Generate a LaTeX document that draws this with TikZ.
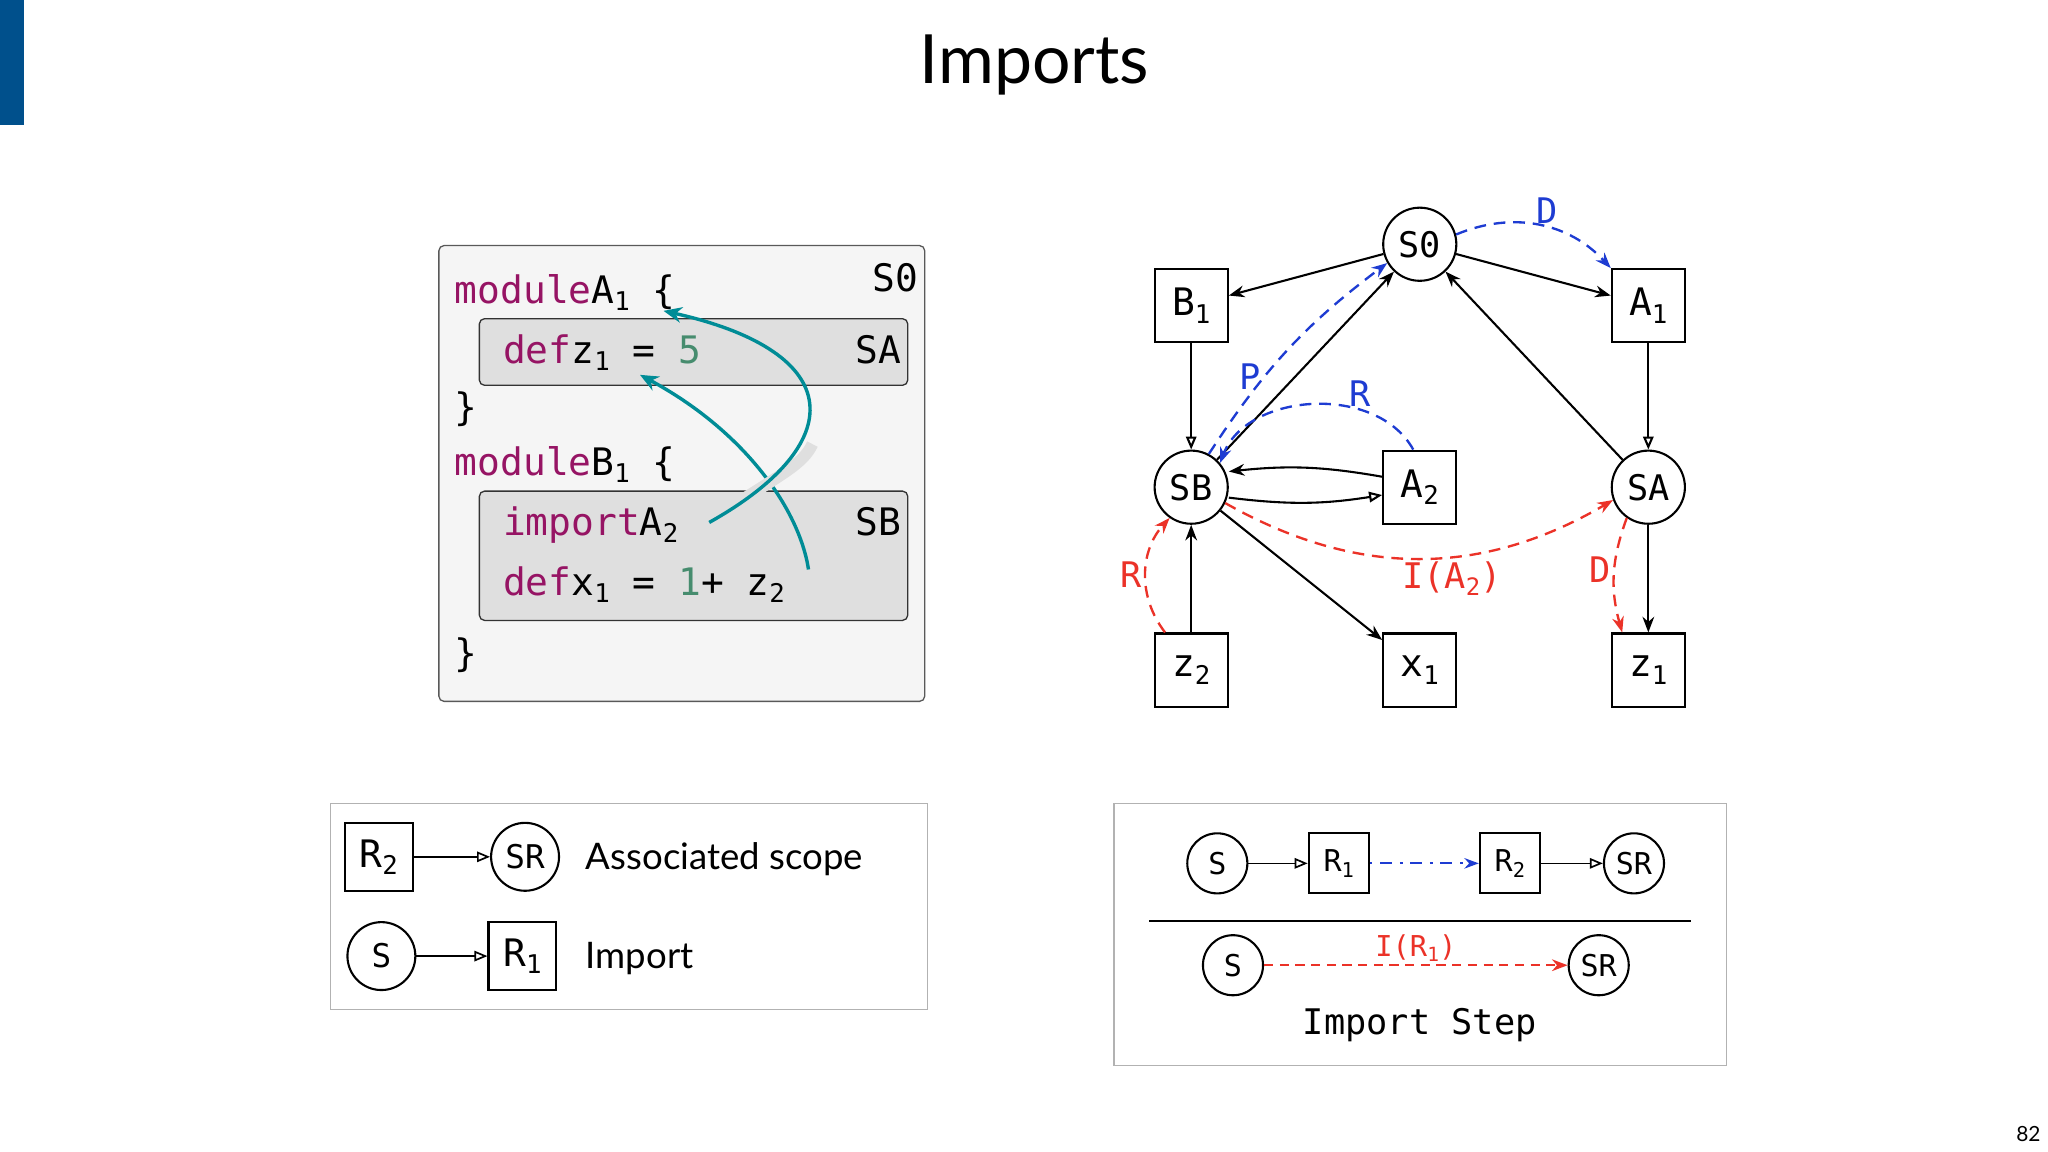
\documentclass[tikz,border=0pt]{standalone}
\usepackage{fontspec}
\setmainfont{Lato}
\newfontfamily\mono{DejaVu Sans Mono}
\usetikzlibrary{arrows.meta,calc}
\definecolor{kw}{RGB}{150,20,100}
\definecolor{num}{RGB}{70,140,110}
\definecolor{teal2}{RGB}{0,140,150}
\definecolor{bl}{RGB}{30,60,210}
\definecolor{rd}{RGB}{235,50,40}
\definecolor{bar}{RGB}{0,80,140}
\newcommand{\sbs}[1]{\raisebox{-0.35ex}{\scalebox{0.68}{#1}}}
\begin{document}
\begin{tikzpicture}[x=1pt,y=-1pt,
  code/.style={anchor=base west,inner sep=0,font=\mono\fontsize{29}{30}\selectfont},
  cir/.style={draw,circle,line width=1.6pt,minimum size=56pt,inner sep=0,font=\mono\fontsize{27}{28}\selectfont},
  sq/.style={draw,line width=1.6pt,minimum size=56pt,inner sep=0,font=\mono\fontsize{29}{30}\selectfont},
  scir/.style={cir,minimum size=46pt,font=\mono\fontsize{23}{24}\selectfont},
  ssq/.style={sq,minimum size=46pt,font=\mono\fontsize{23}{24}\selectfont},
  e/.style={line width=1.6pt,-{Stealth[length=12pt,width=9pt]}},
  eo/.style={line width=1.6pt,-{Triangle[open,length=10pt,width=8pt]}},
  bd/.style={bl,line width=1.8pt,dash pattern=on 9pt off 6pt,-{Stealth[length=12pt,width=9pt]}},
  rdd/.style={rd,line width=1.8pt,dash pattern=on 9pt off 6pt,-{Stealth[length=12pt,width=9pt]}},
  lab/.style={font=\mono\fontsize{27}{28}\selectfont,inner sep=2pt},
  ta/.style={teal2,line width=2.6pt,-{Stealth[length=14pt,width=12pt]}}]
\useasboundingbox (0,0) rectangle (1568,882);
\fill[bar] (0,0) rectangle (18,96);
\node[font=\fontsize{52}{54}\selectfont] (title) at (792,50) {Imports};
\node[font=\fontsize{16}{18}\selectfont] (pg) at (1553,868) {82};
% code
\draw[gray!70!black,fill=gray!8,rounded corners=4pt,line width=1pt] (336,188) rectangle (708,537);
\draw[gray!40!black,fill=gray!25,rounded corners=4pt,line width=1pt] (367,244) rectangle (695,295);
\draw[gray!40!black,fill=gray!25,rounded corners=4pt,line width=1pt] (367,376) rectangle (695,475);
\node[code] (l1) at (348,232) {\color{kw}module\color{black} A\sbs{1} \{};
\node[code] (l2) at (385,278) {\color{kw}def\color{black} z\sbs{1} = \color{num}5};
\node[code] (l3) at (348,322) {\}};
\node[code] (l4) at (348,364) {\color{kw}module\color{black} B\sbs{1} \{};
\node[code] (l5) at (385,410) {\color{kw}import\color{black} A\sbs{2}};
\node[code] (l6) at (385,456) {\color{kw}def\color{black} x\sbs{1} = \color{num}1\color{black} + z\sbs{2}};
\node[code] (l7) at (348,510) {\}};
\node[code,anchor=base east] (s0l) at (703,223) {S0};
\node[code,anchor=base east] (sal) at (690,278) {SA};
\node[code,anchor=base east] (sbl) at (690,410) {SB};
\coordinate (z2s) at (619,436);
\coordinate (z1t) at (490,287);
\coordinate (a2s) at (543,400);
\coordinate (a1t) at (508,238);
\draw[ta] (z2s) .. controls (612,390) and (570,330) .. (z1t);
\draw[gray!25,line width=9pt] (560,388) .. controls (600,362) and (615,355) .. (622,340);
\draw[ta] (a2s) .. controls (650,340) and (650,270) .. (a1t);
% graph
\node[cir] (S0) at (1087,187) {S0};
\node[sq] (B1) at (912,234) {B\sbs{1}};
\node[sq] (A1) at (1262,234) {A\sbs{1}};
\node[cir] (SB) at (912,373) {SB};
\node[sq] (A2) at (1087,373) {A\sbs{2}};
\node[cir] (SA) at (1262,373) {SA};
\node[sq] (z2) at (912,513) {z\sbs{2}};
\node[sq] (x1) at (1087,513) {x\sbs{1}};
\node[sq] (z1) at (1262,513) {z\sbs{1}};
\draw[e] (S0) -- (B1);
\draw[e] (S0) -- (A1);
\draw[eo] (B1) -- (SB);
\draw[eo] (A1) -- (SA);
\draw[e] (SB) -- (S0);
\draw[e] (SA) -- (S0);
\draw[e] (A2.west) ++(0,-8) to[bend right=8] ($(SB.east)+(0,-12)$);
\draw[eo] ($(SB.east)+(0,8)$) to[bend right=8] ($(A2.west)+(0,6)$);
\draw[e] (SB) -- (x1);
\draw[e] (z2) -- (SB);
\draw[e] (SA) -- (z1);
\draw[bd] (S0.15) to[bend left=35] node[lab,above,pos=0.55] (Dl) {D} (A1.north west);
\draw[bd] (SB.62) to[bend left=10] node[lab,left,pos=0.35] (Pl) {P} (S0.210);
\draw[bd] ($(A2.north)+(-5,0)$) to[bend right=65] node[lab,above,pos=0.3] (Rl) {R} (SB.40);
\draw[rdd] (SB.-25) to[bend right=30] node[lab,below,pos=0.55,xshift=10pt] (Il) {I(A\sbs{2})} (SA.200);
\draw[rdd] ($(z2.north)+(-20,0)$) to[bend left=40] node[lab,left,pos=0.5] (Rr) {R} (SB.235);
\draw[rdd] (SA.235) to[bend right=18] node[lab,left,pos=0.45] (Dr) {D} ($(z1.north)+(-20,0)$);
% legend left
\draw[gray!60,line width=1pt] (253,615) rectangle (710,773);
\node[sq,minimum size=52pt] (R2) at (290,656) {R\sbs{2}};
\node[cir,minimum size=52pt,font=\mono\fontsize{25}{26}\selectfont] (SR) at (402,656) {SR};
\node[anchor=west,font=\fontsize{28}{30}\selectfont\addfontfeatures{}] (t1) at (445,658) {Associated scope};
\node[cir,minimum size=52pt,font=\mono\fontsize{25}{26}\selectfont] (Sx) at (292,732) {S};
\node[sq,minimum size=52pt] (R1) at (400,732) {R\sbs{1}};
\node[anchor=west,font=\fontsize{28}{30}\selectfont] (t2) at (445,734) {Import};
\draw[eo,line width=1.3pt] (R2) -- (SR);
\draw[eo,line width=1.3pt] (Sx) -- (R1);
% legend right
\draw[gray!60,line width=1pt] (853,615) rectangle (1322,816);
\node[scir] (a) at (932,661) {S};
\node[ssq] (b) at (1025,661) {R\sbs{1}};
\node[ssq] (c) at (1156,661) {R\sbs{2}};
\node[scir] (d) at (1251,661) {SR};
\draw[eo,line width=1.3pt] (a) -- (b);
\draw[eo,line width=1.3pt] (c) -- (d);
\draw[bl,line width=1.6pt,dash pattern=on 2pt off 6pt on 9pt off 6pt,-{Stealth[length=11pt,width=8pt]}] (b) -- (c);
\coordinate (hl) at (880,705);
\coordinate (hr) at (1295,705);
\draw[line width=2pt] (hl) -- (hr);
\node[scir] (e1) at (944,739) {S};
\node[scir] (e2) at (1224,739) {SR};
\draw[rdd,line width=1.5pt,dash pattern=on 7pt off 5pt] (e1) -- node[lab,above,font=\mono\fontsize{22}{24}\selectfont] (Ir) {I(R\sbs{1})} (e2);
\node[font=\mono\fontsize{27}{28}\selectfont] (is) at (1087,785) {Import Step};
\end{tikzpicture}
\end{document}
